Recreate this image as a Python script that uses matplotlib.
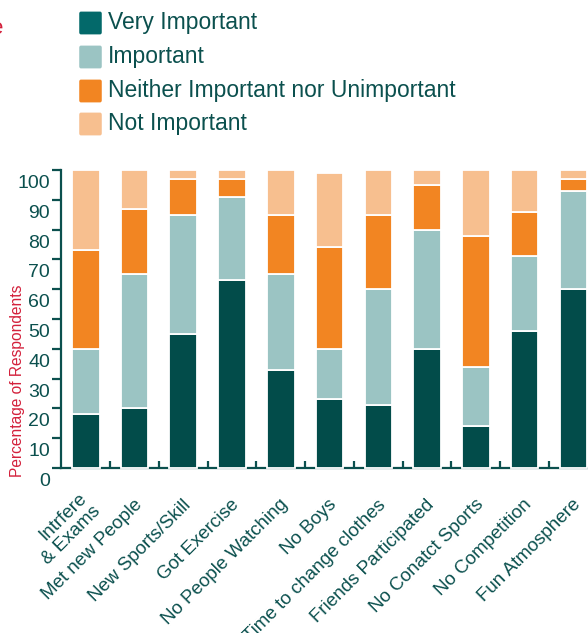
import matplotlib
matplotlib.use("Agg")
import matplotlib.pyplot as plt
from matplotlib.patches import FancyBboxPatch
from matplotlib.transforms import ScaledTranslation
import numpy as np

plt.rcParams['font.family'] = ['Liberation Sans', 'DejaVu Sans']

categories = ["Intrfere\n& Exams", "Met new People", "New Sports/Skill", "Got Exercise",
              "No People Watching", "No Boys", "Time to change clothes",
              "Friends Participated", "No Conatct Sports", "No Competition",
              "Fun Atmosphere"]
very_important = [18, 20, 45, 63, 33, 23, 21, 40, 14, 46, 60]
important = [22, 45, 40, 28, 32, 17, 39, 40, 20, 25, 33]
neither = [33, 22, 12, 6, 20, 34, 25, 15, 44, 15, 4]
not_important = [27, 13, 3, 3, 15, 25, 15, 5, 22, 14, 3]

series_names = ["Very Important", "Important",
                "Neither Important nor Unimportant", "Not Important"]
series = [very_important, important, neither, not_important]
bar_colors = ["#024c4a", "#9bc4c3", "#f28522", "#f7bf8f"]
swatch_colors = ["#03696a", "#9bc4c3", "#f28522", "#f7bf8f"]

teal = "#0b504e"
red = "#d3203b"

W, H = 588, 633
fig = plt.figure(figsize=(W / 100, H / 100), dpi=100)

# axes box in pixels: x 61..588, y 170..468
ax = fig.add_axes([61 / W, (H - 468) / H, (588 - 61) / W, (468 - 170) / H])

x = np.arange(len(categories))
bottom = np.zeros(len(categories))
for vals, col in zip(series, bar_colors):
    ax.bar(x, vals, width=0.565, bottom=bottom, color=col,
           edgecolor="white", linewidth=1.3, zorder=3, clip_on=False)
    bottom += np.array(vals)

ax.set_xlim(-0.508, 10.302)
ax.set_ylim(0, 100)

for s in ["top", "right"]:
    ax.spines[s].set_visible(False)
ax.spines["left"].set_color(teal)
ax.spines["bottom"].set_color(teal)
ax.spines["left"].set_linewidth(1.6)
ax.spines["bottom"].set_linewidth(1.6)
ax.spines["bottom"].set_zorder(1)

# y axis
ax.set_yticks(np.arange(0, 101, 10))
ax.tick_params(axis="y", direction="out", length=6.5, width=1.6, color=teal,
               labelcolor=teal, labelsize=14, pad=1.5)
shift = ScaledTranslation(0, -0.115, fig.dpi_scale_trans)
for lab in ax.get_yticklabels():
    lab.set_transform(lab.get_transform() + shift)

# small upright ticks between the bars
ax.set_xticks(x[:-1] + 0.5)
ax.set_xticklabels([])
ax.tick_params(axis="x", direction="in", length=5, width=1.6, color=teal)

# rotated category labels
for xi, name in zip(x, categories):
    ax.text(xi + 0.1, -11.5, name, rotation=45, rotation_mode="anchor",
            ha="right", va="center", fontsize=13.5, color=teal,
            multialignment="right", transform=ax.transData)

fig.text(18 / W, 1 - 381 / H, "Percentage of Respondents", rotation=90,
         ha="center", va="center", fontsize=11.2, color=red)

# fragment of heading at the left edge
fig.text(3 / W, 1 - 28 / H, "e", ha="right", va="center", fontsize=16, color=red)

# legend
rows_y = [23, 57, 91, 124]
for yc, name, col in zip(rows_y, series_names, swatch_colors):
    sw = FancyBboxPatch(((79 + 2) / W, (H - yc - 11.5 + 2) / H), 19 / W, 19 / H,
                        boxstyle="round,pad=0.003", transform=fig.transFigure,
                        facecolor=col, edgecolor="none")
    fig.patches.append(sw)
    fig.text(108 / W, 1 - yc / H, name, ha="left", va="center",
             fontsize=16.5, color=teal)

fig.savefig("out.png", dpi=100)
